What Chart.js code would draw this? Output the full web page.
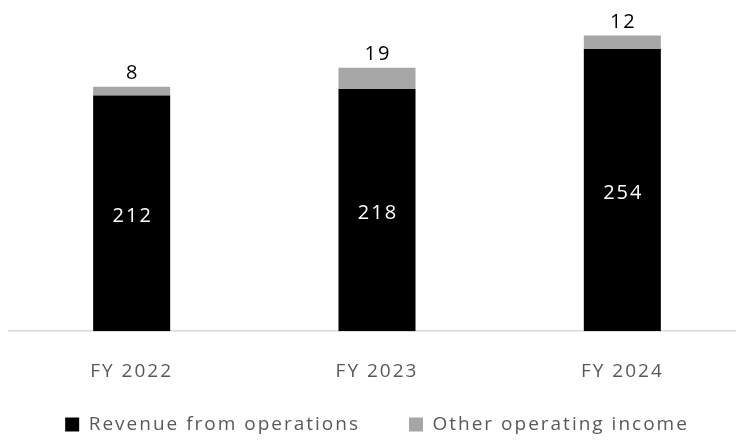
<!DOCTYPE html>
<html>
<head>
<meta charset="utf-8">
<script src="https://cdn.jsdelivr.net/npm/chart.js@4.4.1/dist/chart.umd.min.js"></script>
<style>
    html, body { margin: 0; padding: 0; background: #fff; overflow: hidden; }
    #wrap { width: 745px; height: 441px; }
</style>
</head>
<body>
<div id="wrap"><canvas id="revenueChart"></canvas></div>
<script>
var categories = ['FY 2022', 'FY 2023', 'FY 2024'];
var revenueOps = [212, 218, 254];
var otherIncome = [8, 19, 12];

// the reference text is widely spaced, so add letter spacing to the canvas;
// also keep the x labels from being clipped to the (shrunk) axis box
var spacing = {
    id: 'spacing',
    beforeUpdate: function (chart) { chart.ctx.letterSpacing = '2px'; },
    beforeDraw: function (chart) {
        chart.ctx.letterSpacing = '2px';
        if (chart.scales.x) {
            chart.scales.x._computeLabelArea = function () { return undefined; };
        }
    }
};

// draws the value labels: white inside the black bars, black above the grey ones
var valueLabels = {
    id: 'valueLabels',
    afterDatasetsDraw: function (chart) {
        var ctx = chart.ctx;
        ctx.save();
        ctx.font = '20px "Open Sans"';
        ctx.textAlign = 'center';
        chart.data.datasets.forEach(function (ds, i) {
            var meta = chart.getDatasetMeta(i);
            meta.data.forEach(function (bar, j) {
                if (i === 0) {
                    ctx.fillStyle = '#ffffff';
                    ctx.textBaseline = 'middle';
                    ctx.fillText(ds.data[j], bar.x + 1, (bar.y + bar.base) / 2 + 3);
                } else {
                    ctx.fillStyle = '#000000';
                    ctx.textBaseline = 'bottom';
                    ctx.fillText(ds.data[j], bar.x + 1, bar.y - 3);
                }
            });
        });
        ctx.restore();
    }
};

window.onload = function () {
    var ctx = document.getElementById('revenueChart').getContext('2d');
    new Chart(ctx, {
        type: 'bar',
        data: {
            labels: categories,
            datasets: [{
                label: 'Revenue from operations',
                data: revenueOps,
                backgroundColor: '#000000'
            }, {
                label: 'Other operating income',
                data: otherIncome,
                backgroundColor: '#a6a6a6'
            }]
        },
        options: {
            responsive: true,
            maintainAspectRatio: false,
            animation: false,
            layout: { padding: { left: 9, right: 0, top: 0, bottom: 0 } },
            datasets: {
                bar: { barPercentage: 0.314, categoryPercentage: 1 }
            },
            scales: {
                x: {
                    stacked: true,
                    grid: { display: false },
                    border: { color: '#d9d9d9', width: 1.5 },
                    ticks: {
                        color: '#595959',
                        padding: 21,
                        font: { size: 19, family: 'Open Sans' }
                    },
                    afterFit: function (scale) { scale.height -= 38; }
                },
                y: {
                    stacked: true,
                    display: false,
                    min: 0,
                    max: 298
                }
            },
            plugins: {
                legend: {
                    position: 'bottom',
                    maxHeight: 75,
                    labels: {
                        color: '#595959',
                        boxWidth: 14,
                        boxHeight: 14,
                        padding: 49,
                        font: { size: 19, family: 'Open Sans' }
                    }
                },
                tooltip: { enabled: false }
            }
        },
        plugins: [spacing, valueLabels]
    });
};
</script>
</body>
</html>
